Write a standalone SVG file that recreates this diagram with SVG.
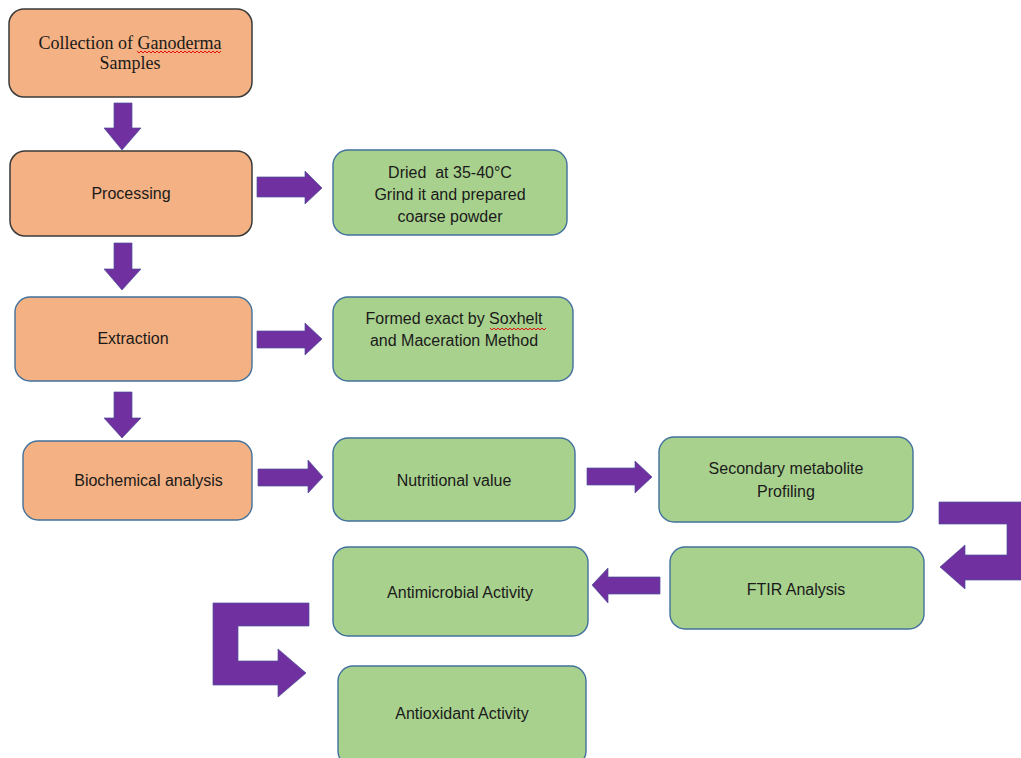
<svg xmlns="http://www.w3.org/2000/svg" width="1021" height="758" viewBox="0 0 1021 758">
<defs>
<style>
.or{fill:#F4B183;stroke:#41719C;stroke-width:1.4}
.ord{fill:#F4B183;stroke:#3a3a3a;stroke-width:1.5}
.gr{fill:#A9D18E;stroke:#41719C;stroke-width:1.4}
.t{font-family:"Liberation Sans",Arial,sans-serif;font-size:16px;fill:#1a1a1a;text-anchor:middle}
.ts{font-family:"Liberation Serif","Times New Roman",serif;font-size:18px;fill:#1a1a1a;text-anchor:middle}
.ar{fill:#7030A0;stroke:#4a4f9a;stroke-width:0.7}
.sq{fill:none;stroke:#e01010;stroke-width:1}
</style>
</defs>
<rect width="1021" height="758" fill="#ffffff"/>
<g id="n-collection">
<rect class="ord" x="9" y="9" width="243" height="88" rx="15"/>
<text class="ts" x="130" y="49">Collection of Ganoderma</text>
<text class="ts" x="130" y="69">Samples</text>
<path class="sq" d="M137,51 l2,2 l2,-2 l2,2 l2,-2 l2,2 l2,-2 l2,2 l2,-2 l2,2 l2,-2 l2,2 l2,-2 l2,2 l2,-2 l2,2 l2,-2 l2,2 l2,-2 l2,2 l2,-2 l2,2 l2,-2 l2,2 l2,-2 l2,2 l2,-2 l2,2 l2,-2 l2,2 l2,-2 l2,2 l2,-2 l2,2 l2,-2 l2,2 l2,-2 l2,2 l2,-2 l2,2 l2,-2 l2,2 l2,-2"/>
</g>
<g id="n-processing">
<rect class="ord" x="10" y="151" width="242" height="85" rx="15"/>
<text class="t" x="131" y="199">Processing</text>
</g>
<g id="n-dried">
<rect class="gr" x="333" y="150" width="234" height="85" rx="15"/>
<text class="t" x="450" y="178" xml:space="preserve">Dried  at 35-40°C</text>
<text class="t" x="450" y="200">Grind it and prepared</text>
<text class="t" x="450" y="222">coarse powder</text>
</g>
<g id="n-extraction">
<rect class="or" x="15" y="297" width="237" height="84" rx="15"/>
<text class="t" x="133" y="344">Extraction</text>
</g>
<g id="n-formed">
<rect class="gr" x="333" y="297" width="240" height="84" rx="15"/>
<text class="t" x="454" y="324">Formed exact by Soxhelt</text>
<text class="t" x="454" y="346">and Maceration Method</text>
<path class="sq" d="M490,328 l2,2 l2,-2 l2,2 l2,-2 l2,2 l2,-2 l2,2 l2,-2 l2,2 l2,-2 l2,2 l2,-2 l2,2 l2,-2 l2,2 l2,-2 l2,2 l2,-2 l2,2 l2,-2 l2,2 l2,-2 l2,2 l2,-2 l2,2 l2,-2 l2,2 l2,-2"/>
</g>
<g id="n-biochemical">
<rect class="or" x="23" y="441" width="229" height="79" rx="15"/>
<text class="t" x="148.5" y="486">Biochemical analysis</text>
</g>
<g id="n-nutritional">
<rect class="gr" x="333" y="438" width="242" height="83" rx="15"/>
<text class="t" x="454" y="486">Nutritional value</text>
</g>
<g id="n-secondary">
<rect class="gr" x="659" y="437" width="254" height="85" rx="15"/>
<text class="t" x="786" y="474">Secondary metabolite</text>
<text class="t" x="786" y="497">Profiling</text>
</g>
<g id="n-ftir">
<rect class="gr" x="670" y="547" width="254" height="82" rx="15"/>
<text class="t" x="796" y="595">FTIR Analysis</text>
</g>
<g id="n-antimicrobial">
<rect class="gr" x="333" y="547" width="255" height="89" rx="15"/>
<text class="t" x="460" y="598">Antimicrobial Activity</text>
</g>
<g id="n-antioxidant">
<rect class="gr" x="338" y="666" width="248" height="100" rx="15"/>
<text class="t" x="462" y="719">Antioxidant Activity</text>
</g>
<g id="connectors">
<polygon class="ar" points="114,103 132,103 132,128 141,128 122,150 104,128 114,128"/>
<polygon class="ar" points="114,243 132,243 132,269 141,269 122,290 104,269 114,269"/>
<polygon class="ar" points="114,392 132,392 132,418 141,418 122,438 104,418 114,418"/>
<polygon class="ar" points="257,177 305,177 305,171 322,188 305,204 305,197 257,197"/>
<polygon class="ar" points="257,331 305,331 305,323 322,339 305,355 305,348 257,348"/>
<polygon class="ar" points="258,469 308,469 308,460 323,477 308,493 308,486 258,486"/>
<polygon class="ar" points="587,468 635,468 635,461 652,477 635,493 635,485 587,485"/>
<polygon class="ar" points="660,577 608,577 608,568 592,585 608,603 608,594 660,594"/>
<polygon class="ar" points="939,502 1030,502 1030,580 965,580 965,589 940,567 965,545 965,555 1007,555 1007,524 939,524"/>
<polygon class="ar" points="213,603 309,603 309,626 238,626 238,661 278,661 278,649 306,673 278,697 278,685 213,685"/>
</g>
</svg>
